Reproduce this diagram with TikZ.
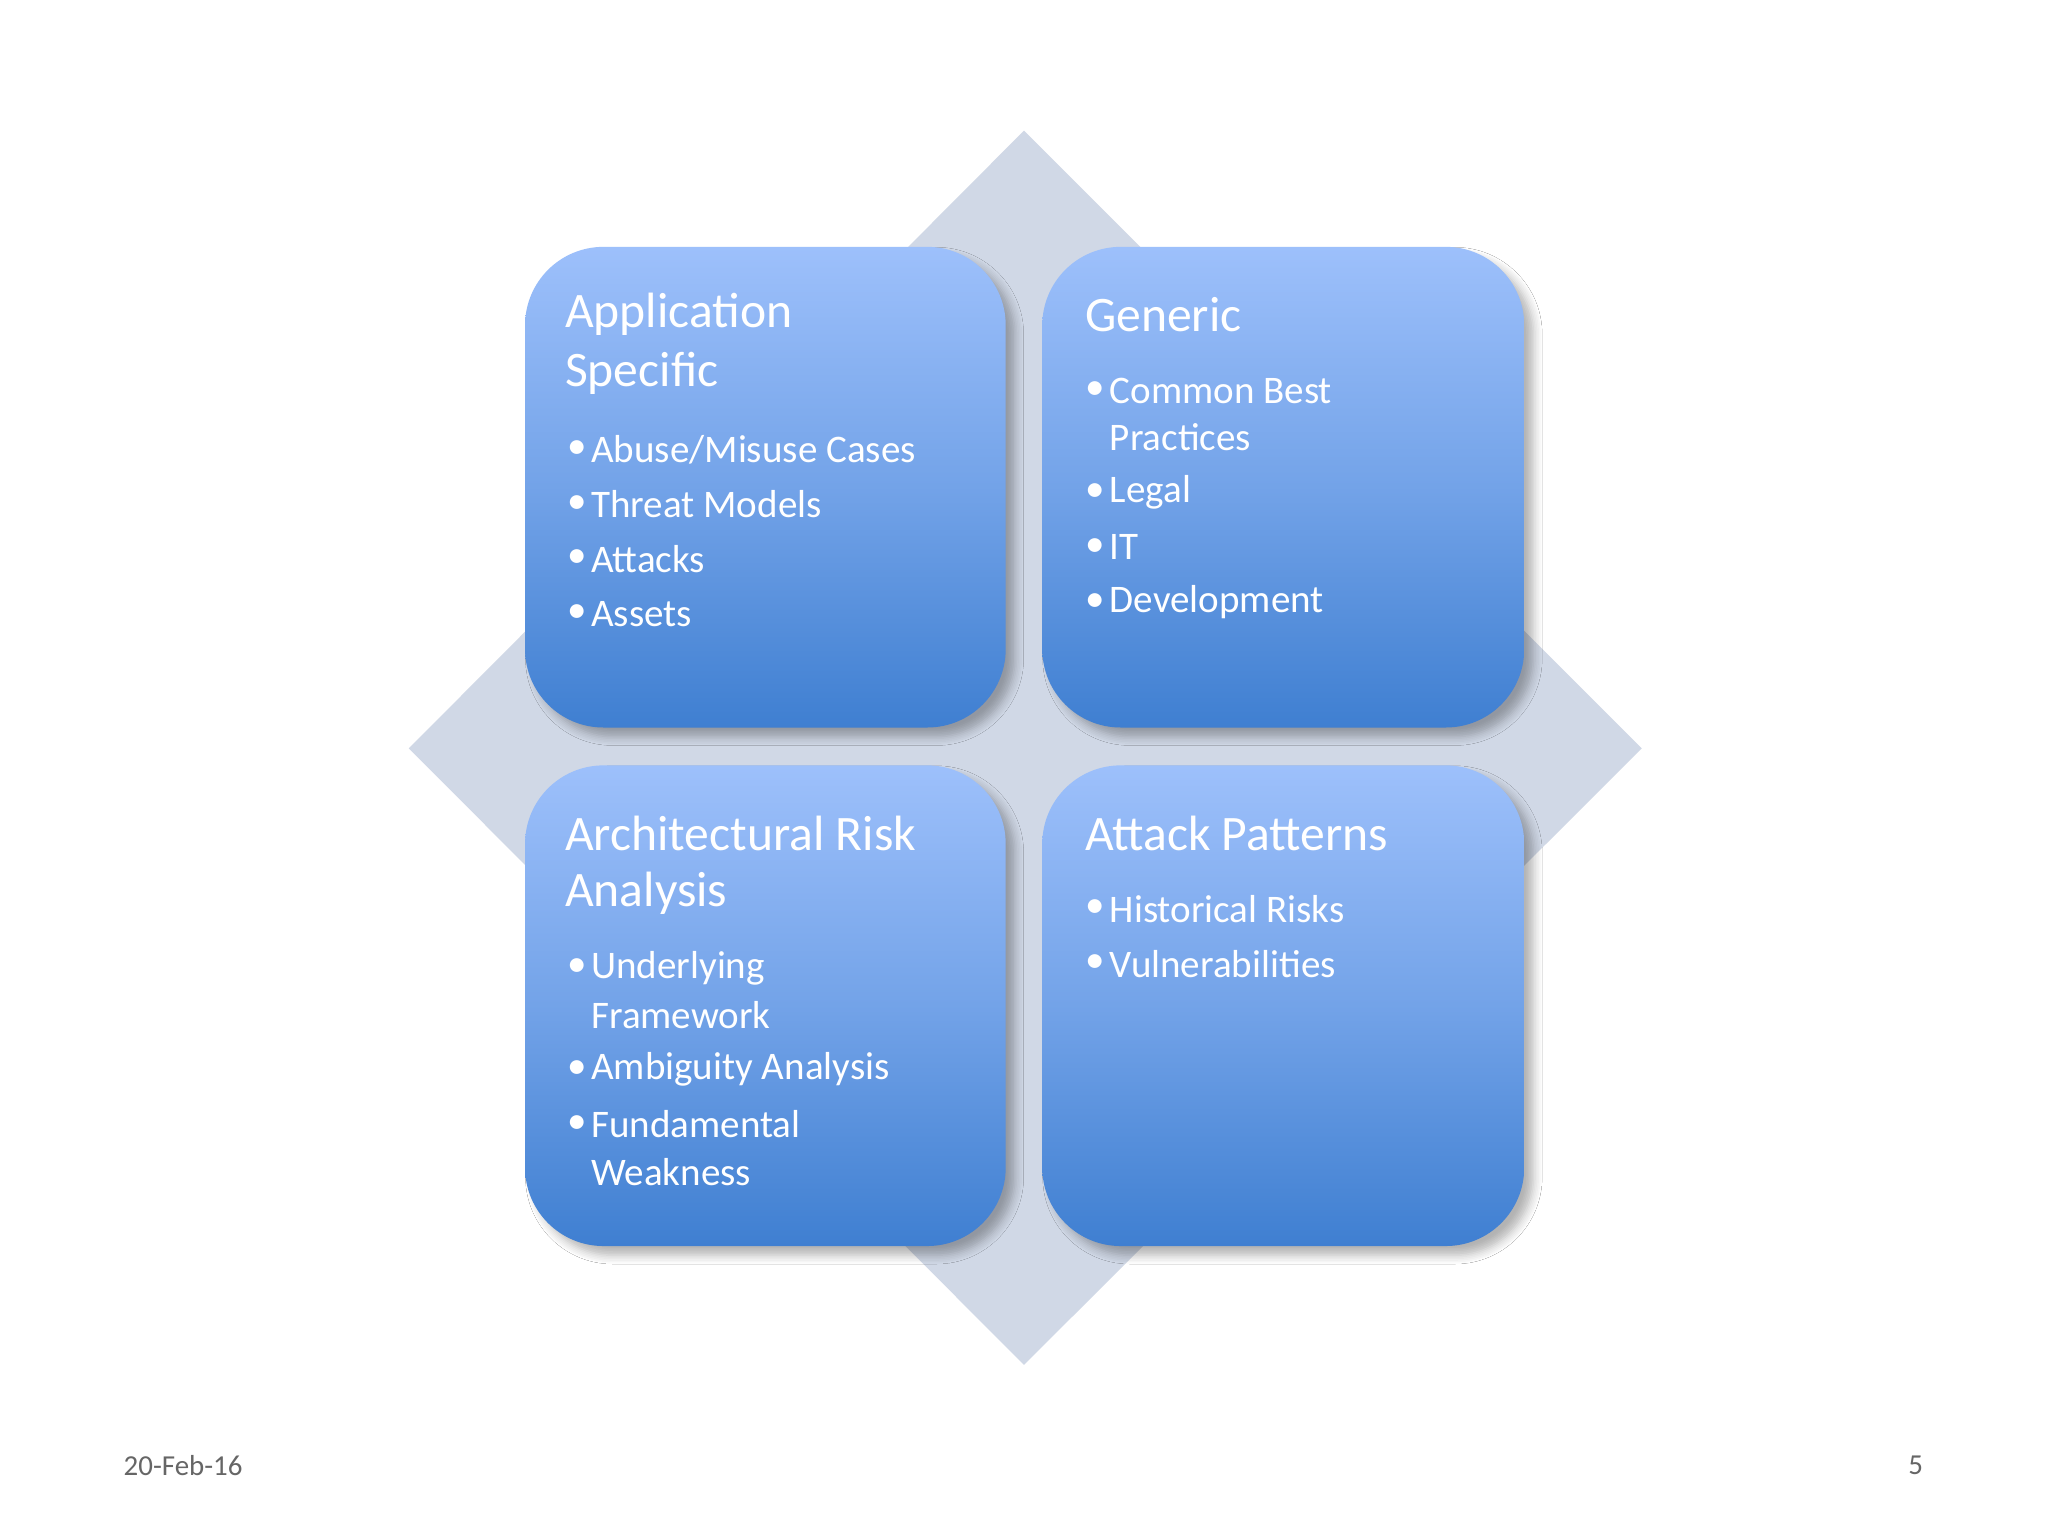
\documentclass[tikz,border=0pt]{standalone}
\usepackage{fontspec}
\setmainfont{Carlito}
\usetikzlibrary{shadows.blur}
\definecolor{dia}{HTML}{D0D8E6}
\definecolor{btop}{HTML}{9DC0FB}
\definecolor{bbot}{HTML}{3F7FD1}
\tikzset{
 card/.style={rounded corners=0.6cm,top color=btop,bottom color=bbot,middle color=btop!55!bbot,blur shadow={shadow xshift=2pt,shadow yshift=-2pt,shadow blur steps=6,shadow opacity=30}},
 ttl/.style={anchor=west,text=white,font=\fontsize{10.8pt}{12pt}\selectfont,inner sep=0pt},
 itm/.style={anchor=west,text=white,font=\fontsize{8.5pt}{10pt}\selectfont,inner sep=0pt},
 foot/.style={text=black!60,font=\fontsize{6.3pt}{7pt}\selectfont,inner sep=0pt}
}
\newcommand{\bul}[3]{\node[itm] (#1b) at (434,#2) {•}; \node[itm] (#1) at (452,#2) {#3};}
\newcommand{\bur}[3]{\node[itm] (#1b) at (830,#2) {•}; \node[itm] (#1) at (849,#2) {#3};}
\begin{document}
\begin{tikzpicture}[x=0.01cm,y=-0.01cm]
\useasboundingbox (0,0) rectangle (1568,1176);
\fill[white] (0,0) rectangle (1568,1176);
\fill[dia] (784,100) -- (1257,573) -- (784,1045) -- (313,573) -- cycle;
\path[card] (402,189) rectangle (770,557);
\path[card] (798,189) rectangle (1167,557);
\path[card] (402,586) rectangle (770,954);
\path[card] (798,586) rectangle (1167,954);
% TL
\node[ttl] (t1a) at (432,241) {Application};
\node[ttl] (t1b) at (432,286) {Specific};
\bul{a1}{344}{Abuse/Misuse Cases}
\bul{a2}{386}{Threat Models}
\bul{a3}{428}{Attacks}
\bul{a4}{470}{Assets}
% TR
\node[ttl] (t2) at (830,241) {Generic};
\bur{g1}{299}{Common Best}
\node[itm] (g1x) at (849,335) {Practices};
\bur{g2}{377}{Legal}
\bur{g3}{419}{IT}
\bur{g4}{461}{Development}
% BL
\node[ttl] (t3a) at (432,638) {Architectural Risk};
\node[ttl] (t3b) at (432,684) {Analysis};
\bul{r1}{741}{Underlying}
\node[itm] (r1x) at (452,777) {Framework};
\bul{r2}{819}{Ambiguity Analysis}
\bul{r3}{861}{Fundamental}
\node[itm] (r3x) at (452,897) {Weakness};
% BR
\node[ttl] (t4) at (830,638) {Attack Patterns};
\bur{p1}{696}{Historical Risks}
\bur{p2}{738}{Vulnerabilities}
% footer
\node[foot,anchor=west] (date) at (94,1122) {20-Feb-16};
\node[foot,anchor=east] (pg) at (1473,1122) {5};
\end{tikzpicture}
\end{document}
